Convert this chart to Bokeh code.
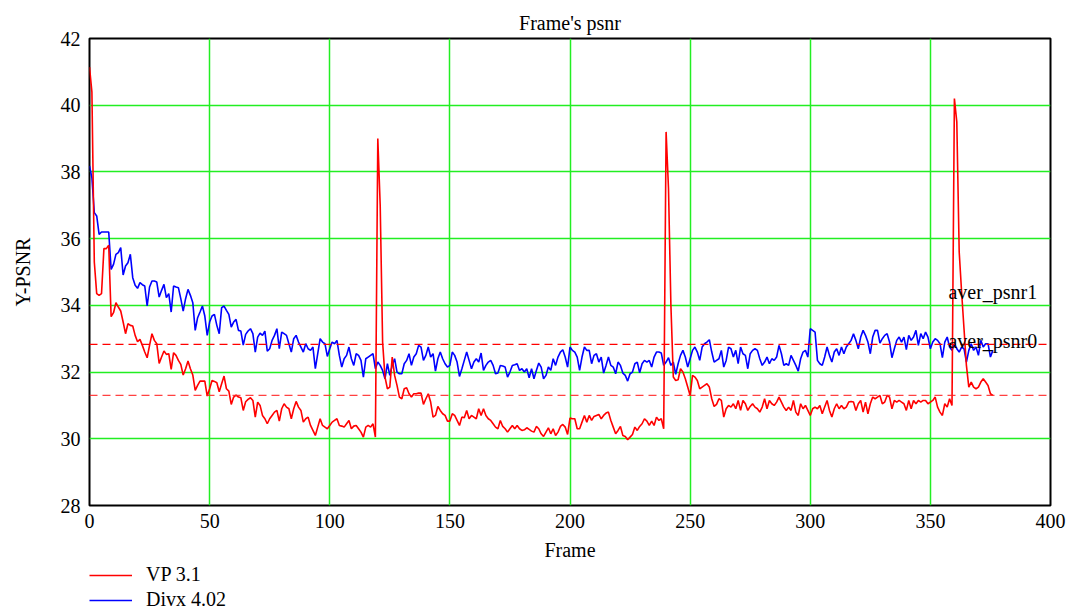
from bokeh.plotting import figure
from bokeh.layouts import column
from bokeh.models import Span, Label, Legend, LegendItem, FixedTicker, Range1d
from bokeh.embed import file_html
from bokeh.resources import INLINE

# ---------------- data ----------------
vp31 = [
    41.14, 40.4, 35.3, 34.35, 34.3, 34.35, 35.7, 35.7, 35.8, 33.66,
    33.78, 34.08, 33.95, 33.83, 33.5, 33.15, 33.45, 33.4, 33.38, 33.1,
    32.91, 32.98, 32.8, 32.6, 32.43, 32.8, 33.15, 32.95, 32.85, 32.26,
    32.45, 32.63, 32.53, 32.55, 32.08, 32.58, 32.5, 32.35, 32.23, 31.91,
    32.1, 32.33, 32.1, 31.91, 31.45, 31.6, 31.73, 31.73, 31.73, 31.28,
    31.5, 31.75, 31.72, 31.68, 31.41, 31.65, 31.88, 31.5, 31.43, 31.03,
    31.25, 31.31, 31.25, 31.23, 30.85, 31.11, 31.18, 31.23, 31.15, 30.65,
    31.1, 31.0, 30.7, 30.6, 30.45, 30.6, 30.7, 30.8, 30.85, 30.53,
    30.9, 31.05, 30.95, 30.9, 30.6, 30.9, 31.12, 30.95, 30.85, 30.5,
    30.6, 30.65, 30.4, 30.25, 30.1, 30.35, 30.6, 30.4, 30.35, 30.3,
    30.4, 30.5, 30.55, 30.6, 30.4, 30.38, 30.35, 30.45, 30.55, 30.3,
    30.38, 30.4, 30.3, 30.2, 30.05, 30.35, 30.4, 30.35, 30.45, 30.05,
    39.0, 37.0, 32.9, 31.85, 31.5, 31.55, 32.45, 31.9, 31.6, 31.25,
    31.2, 31.5, 31.53, 31.35, 31.25, 31.35, 31.35, 31.37, 31.37, 31.03,
    31.2, 31.35, 31.1, 30.65, 30.7, 30.97, 30.85, 30.75, 30.7, 30.53,
    30.53, 30.75, 30.7, 30.55, 30.4, 30.65, 30.63, 30.85, 30.6, 30.7,
    30.65, 30.6, 30.9, 30.7, 30.9, 30.7, 30.6, 30.55, 30.45, 30.35,
    30.3, 30.55, 30.37, 30.3, 30.2, 30.3, 30.4, 30.3, 30.4, 30.3,
    30.25, 30.27, 30.33, 30.28, 30.23, 30.2, 30.37, 30.3, 30.15, 30.07,
    30.2, 30.33, 30.15, 30.3, 30.1, 30.2, 30.37, 30.43, 30.35, 30.13,
    30.62, 30.6, 30.6, 30.3, 30.3, 30.5, 30.7, 30.5, 30.7, 30.55,
    30.67, 30.7, 30.73, 30.6, 30.7, 30.77, 30.8, 30.55, 30.35, 30.15,
    30.25, 30.37, 30.1, 30.07, 29.97, 30.05, 30.13, 30.35, 30.25, 30.37,
    30.45, 30.6, 30.53, 30.4, 30.53, 30.4, 30.65, 30.55, 30.6, 30.3,
    39.2, 37.5, 34.0, 31.85, 31.75, 31.77, 32.1, 32.0, 31.8, 31.55,
    31.3, 31.9, 31.85, 31.75, 31.5, 31.55, 31.6, 31.65, 31.55, 31.2,
    30.97, 31.03, 31.2, 31.15, 30.65, 30.9, 31.0, 30.95, 31.05, 30.9,
    31.15, 30.85, 31.15, 31.05, 30.85, 30.97, 31.05, 30.95, 30.9, 30.8,
    30.95, 31.2, 30.9, 31.15, 31.05, 31.0, 31.1, 31.25, 31.1, 30.95,
    30.85, 30.95, 30.85, 31.15, 30.8, 30.7, 31.05, 30.9, 31.0, 30.85,
    30.7, 30.9, 30.95, 30.9, 31.0, 30.75, 30.95, 31.15, 30.85, 30.65,
    30.9, 31.05, 30.9, 31.0, 30.9, 30.95, 31.1, 31.12, 31.1, 30.85,
    31.05, 31.15, 30.8, 31.1, 30.75, 31.05, 31.25, 31.2, 31.25, 31.3,
    31.05, 31.1, 31.3, 31.25, 30.9, 31.15, 31.1, 31.15, 31.1, 31.05,
    30.85, 31.15, 30.9, 31.15, 31.05, 31.15, 31.1, 31.15, 31.15, 31.05,
    31.1, 31.15, 31.25, 30.95, 30.8, 30.7, 31.05, 30.95, 31.2, 31.0,
    40.2, 39.5, 35.6, 34.4, 33.3, 32.2, 31.55, 31.7, 31.55, 31.5,
    31.55, 31.7, 31.8, 31.7, 31.6, 31.35, 31.3,
]

divx402 = [
    38.18, 37.83, 36.78, 36.68, 36.13, 36.2, 36.2, 36.2, 36.2, 35.08,
    35.23, 35.53, 35.58, 35.73, 34.91, 35.18, 35.28, 35.53, 34.83, 34.6,
    34.51, 34.68, 34.62, 34.58, 33.98, 34.55, 34.73, 34.73, 34.7, 34.25,
    34.45, 34.63, 34.23, 34.35, 33.8, 34.58, 34.55, 34.53, 34.2, 33.83,
    34.2, 34.48, 34.3, 34.08, 33.25, 33.63, 33.8, 33.98, 33.68, 33.1,
    33.5, 33.68, 33.73, 33.4, 33.15, 33.93, 33.98, 33.85, 33.73, 33.35,
    33.5, 33.58, 33.25, 33.23, 32.81, 33.13, 33.23, 33.3, 33.15, 32.6,
    33.05, 33.17, 33.1, 33.23, 32.63, 32.7, 32.95, 33.1, 33.3, 32.7,
    33.2, 33.15, 33.1, 32.85, 32.6, 33.0, 33.1, 32.9, 32.75, 32.6,
    32.85, 32.7, 32.65, 32.75, 32.1, 32.55, 33.0, 32.9, 32.85, 32.47,
    32.7, 32.9, 32.85, 32.95, 32.5, 32.15, 32.4, 32.5, 32.75, 32.4,
    32.2, 32.55, 32.5, 32.35, 31.85, 32.4, 32.45, 32.5, 32.55, 32.1,
    32.3, 32.2, 32.05, 31.8, 32.25, 31.9, 32.2, 32.4, 32.0, 31.95,
    31.95, 32.25, 32.35, 32.55, 32.2, 32.45, 32.55, 32.8, 32.75, 32.35,
    32.5, 32.75, 32.45, 32.55, 32.03, 32.4, 32.6, 32.4, 32.25, 32.15,
    32.2, 32.6, 32.5, 32.3, 31.87, 32.1, 32.35, 32.6, 32.35, 32.1,
    32.3, 32.4, 32.3, 32.57, 32.05, 32.2, 32.3, 32.35, 32.2, 31.95,
    31.97, 32.2, 32.18, 32.15, 31.85, 32.0, 32.2, 32.22, 32.25, 32.05,
    32.1, 32.0, 32.1, 31.83, 32.1, 31.8, 32.05, 32.27, 32.15, 31.8,
    31.9, 32.15, 32.05, 32.4, 32.2, 32.45, 32.6, 32.67, 32.45, 32.15,
    32.75, 32.65, 32.6, 32.45, 32.05, 32.45, 32.75, 32.65, 32.65, 32.25,
    32.5, 32.55, 32.3, 32.45, 31.97, 32.2, 32.45, 32.2, 32.15, 31.95,
    32.3, 32.2, 31.97, 31.9, 31.73, 31.95, 32.0, 32.25, 32.3, 31.98,
    32.25, 32.35, 32.3, 32.35, 32.15, 32.45, 32.6, 32.6, 32.57, 32.2,
    32.3, 32.43, 32.2, 32.3, 31.93, 32.25, 32.5, 32.65, 32.45, 32.15,
    32.4, 32.65, 32.75, 32.6, 32.35, 32.75, 32.85, 32.9, 32.97, 32.6,
    32.3, 32.35, 32.4, 32.65, 32.15, 32.35, 32.75, 32.7, 32.45, 32.65,
    32.25, 32.75, 32.55, 32.5, 32.1, 32.55, 32.65, 32.7, 32.65, 32.4,
    32.2, 32.3, 32.45, 32.25, 32.4, 32.35, 32.45, 32.8, 32.55, 32.2,
    32.25, 32.2, 32.5, 32.35, 32.2, 32.03, 32.4, 32.6, 32.65, 32.45,
    33.3, 33.25, 33.2, 32.35, 32.25, 32.2, 32.45, 32.75, 32.5, 32.3,
    32.6, 32.7, 32.5, 32.75, 32.55, 32.75, 32.85, 32.95, 33.15, 32.95,
    32.7, 33.05, 33.25, 33.1, 32.9, 32.55, 33.05, 33.25, 33.25, 32.87,
    33.0, 33.1, 33.15, 32.9, 32.43, 32.7, 32.95, 33.05, 32.9, 33.05,
    32.67, 33.1, 32.95, 33.05, 33.25, 32.8, 33.15, 33.0, 33.2, 33.05,
    32.7, 32.9, 33.0, 32.95, 32.85, 32.43, 32.9, 33.05, 32.75, 32.65,
    32.85, 32.7, 32.6, 32.75, 32.7, 32.3, 32.65, 32.85, 32.65, 32.75,
    32.5, 32.95, 32.75, 32.85, 32.85, 32.45, 32.65,
]

aver_psnr0 = 32.83
aver_psnr1 = 31.30

x_ticks = [0, 50, 100, 150, 200, 250, 300, 350, 400]
y_ticks = [28, 30, 32, 34, 36, 38, 40, 42]

title_text = "Frame's psnr"
x_label = "Frame"
y_label = "Y-PSNR"
series_labels = ["VP 3.1", "Divx 4.02"]
series_colors = ["#ff0000", "#0000ff"]
annot_labels = ["aver_psnr1", "aver_psnr0"]

frames_vp = list(range(len(vp31)))
frames_dx = list(range(len(divx402)))

FONT = "Liberation Serif"
FS = "20px"

# ---------------- main chart ----------------
p = figure(width=1072, height=563, output_backend="svg", toolbar_location=None,
           x_range=Range1d(0, 400), y_range=Range1d(28, 42),
           min_border_left=89, min_border_right=22, min_border_top=38,
           min_border_bottom=55)

p.title.text = title_text
p.title.align = "center"
p.title.text_font = FONT
p.title.text_font_size = FS
p.title.text_font_style = "normal"
p.title.text_color = "black"

p.background_fill_color = "white"
p.border_fill_color = "white"
p.outline_line_color = "black"
p.outline_line_width = 2

for ax in (p.xaxis[0], p.yaxis[0]):
    ax.axis_line_color = None
    ax.major_tick_line_color = None
    ax.minor_tick_line_color = None
    ax.major_tick_out = 0
    ax.major_tick_in = 0
    ax.minor_tick_out = 0
    ax.major_label_text_font = FONT
    ax.major_label_text_font_size = FS
    ax.major_label_text_color = "black"
    ax.axis_label_text_font = FONT
    ax.axis_label_text_font_size = FS
    ax.axis_label_text_font_style = "normal"
    ax.axis_label_text_color = "black"

p.xaxis[0].ticker = FixedTicker(ticks=x_ticks)
p.yaxis[0].ticker = FixedTicker(ticks=y_ticks)
p.xaxis[0].axis_label = x_label
p.yaxis[0].axis_label = y_label
p.xaxis[0].major_label_standoff = 8
p.xaxis[0].axis_label_standoff = 8
p.yaxis[0].major_label_standoff = 9
p.yaxis[0].axis_label_standoff = 24

p.xgrid[0].ticker = FixedTicker(ticks=x_ticks)
p.ygrid[0].ticker = FixedTicker(ticks=y_ticks)
for g in (p.xgrid[0], p.ygrid[0]):
    g.grid_line_color = "#22ee22"
    g.grid_line_width = 1.5

r_dx = p.line(frames_dx, divx402, line_color=series_colors[1], line_width=1.6)
r_vp = p.line(frames_vp, vp31, line_color=series_colors[0], line_width=1.6)

p.add_layout(Span(location=aver_psnr0, dimension="width", line_color="#ff0000",
                  line_dash="8 5", line_width=1.2))
p.add_layout(Span(location=aver_psnr1, dimension="width", line_color="#ff2020",
                  line_alpha=0.85, line_dash="8 5", line_width=1.2))

p.add_layout(Label(x=357.5, y=34.40, text=annot_labels[0], text_font=FONT,
                   text_font_size=FS, text_baseline="middle", text_color="black"))
p.add_layout(Label(x=357.5, y=32.93, text=annot_labels[1], text_font=FONT,
                   text_font_size=FS, text_baseline="middle", text_color="black"))

# ---------------- legend strip ----------------
nan = float("nan")
lg = figure(width=1072, height=51, output_backend="svg", toolbar_location=None,
            x_range=Range1d(0, 1), y_range=Range1d(0, 1),
            min_border_left=87, min_border_right=0, min_border_top=0,
            min_border_bottom=0, x_axis_type=None, y_axis_type=None)
lg.outline_line_color = None
lg.background_fill_color = "white"
lg.border_fill_color = "white"
lg.xgrid.visible = False
lg.ygrid.visible = False
# placeholder renderers (no visible data) that carry the legend line styles
lg_vp = lg.line(x=[nan], y=[nan], line_color=series_colors[0], line_width=1.6)
lg_dx = lg.line(x=[nan], y=[nan], line_color=series_colors[1], line_width=1.6)

legend = Legend(items=[LegendItem(label=series_labels[0], renderers=[lg_vp]),
                       LegendItem(label=series_labels[1], renderers=[lg_dx])],
                location="top_left", orientation="vertical",
                border_line_color=None, background_fill_alpha=0,
                padding=0, margin=0, spacing=2,
                glyph_width=43, glyph_height=20, label_height=20,
                label_standoff=14, label_text_font=FONT,
                label_text_font_size=FS, label_text_color="black")
lg.add_layout(legend, "center")

layout = column(p, lg, spacing=0)

open("out.html", "w").write(file_html(layout, INLINE))
